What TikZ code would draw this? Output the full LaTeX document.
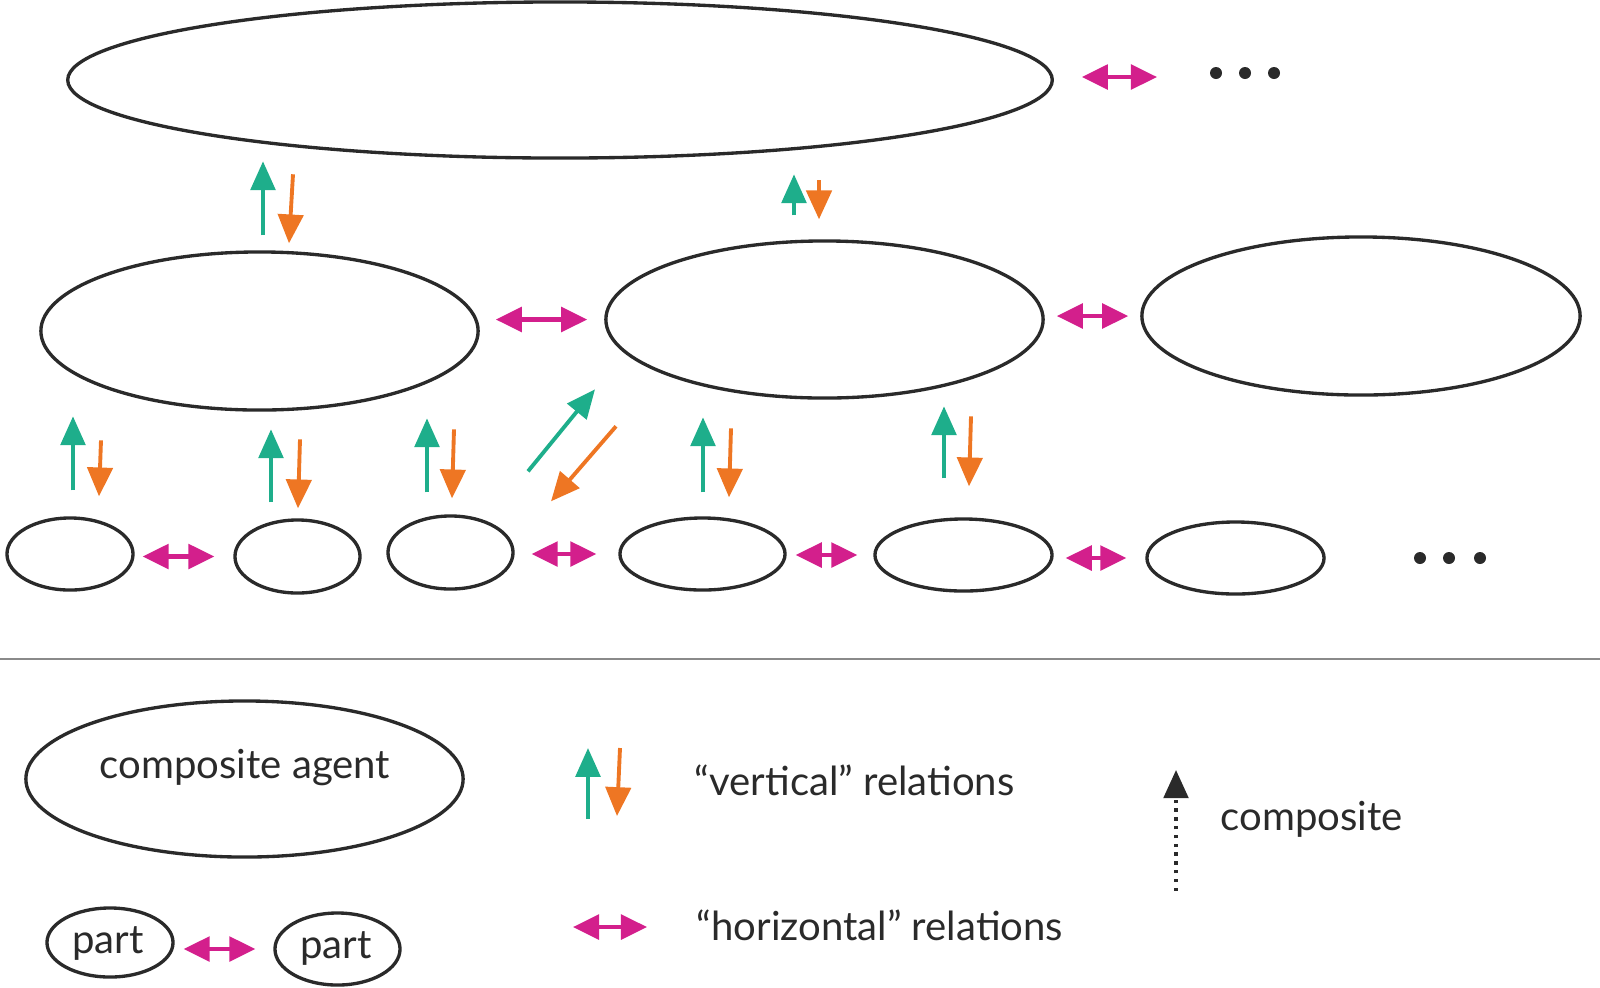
\documentclass[tikz,border=0pt]{standalone}
\usepackage{fontspec}
\setmainfont{Lato}
\usetikzlibrary{arrows.meta,shapes.geometric}
\definecolor{relgreen}{HTML}{1EAE8B}
\definecolor{relorange}{HTML}{EE7623}
\definecolor{relpink}{HTML}{D31F8C}
\definecolor{ink}{HTML}{2A2A2A}
\tikzset{
  blob/.style={ellipse, draw=ink, line width=0.95pt, inner sep=0pt},
  lbl/.style={text=ink, inner sep=0pt, font=\fontsize{11.4pt}{14pt}\selectfont},
  uprel/.style={draw=relgreen, line width=1.1pt, -{Triangle[length=8.2pt,width=7pt]}},
  downrel/.style={draw=relorange, line width=1.1pt, -{Triangle[length=8.2pt,width=7.2pt]}},
  hrel/.style={draw=relpink, line width=1.15pt,
    {Triangle[length=7.4pt,width=7pt]}-{Triangle[length=7.4pt,width=7pt]}},
  comprel/.style={draw=ink, line width=1pt, dash pattern=on 1pt off 1.5pt,
    -{Triangle[length=8pt,width=7pt]}},
}
\begin{document}
\begin{tikzpicture}[x=0.01cm, y=-0.01cm]
\useasboundingbox (0,0) rectangle (1600,987);
% composite level
\node[blob, minimum width=9.84cm, minimum height=1.56cm] (top) at (560,80) {};
\foreach \x in {1216,1245,1274}
  \fill[ink] (\x,73) circle (0.06cm);
% middle level
\node[blob, minimum width=4.37cm, minimum height=1.58cm] (m1) at (259.5,331) {};
\node[blob, minimum width=4.37cm, minimum height=1.57cm] (m2) at (824.5,319.5) {};
\node[blob, minimum width=4.38cm, minimum height=1.58cm] (m3) at (1361,316) {};
% parts
\node[blob, minimum width=1.26cm, minimum height=0.72cm] (s1) at (70,554) {};
\node[blob, minimum width=1.25cm, minimum height=0.73cm] (s2) at (297.5,556.5) {};
\node[blob, minimum width=1.25cm, minimum height=0.73cm] (s3) at (450.5,552.5) {};
\node[blob, minimum width=1.65cm, minimum height=0.72cm] (s4) at (702.5,554) {};
\node[blob, minimum width=1.77cm, minimum height=0.72cm] (s5) at (963.5,555) {};
\node[blob, minimum width=1.77cm, minimum height=0.72cm] (s6) at (1235.5,558) {};
\foreach \x in {1420,1449,1480}
  \fill[ink] (\x,558) circle (0.06cm);

% horizontal relations
\draw[hrel] (top.east) ++(28,-3) -- ++(75,0);
\draw[hrel, shorten <=0.16cm, shorten >=0.17cm] (m1.east |- m2.west) -- (m2.west);
\draw[hrel, shorten <=0.12cm, shorten >=0.12cm] (m2.east |- m3.west) -- (m3.west);
\draw[hrel, shorten <=0.08cm, shorten >=0.19cm] (s1.east |- s2.west) -- (s2.west);
\draw[hrel, shorten <=0.17cm, shorten >=0.22cm] (s3.east |- s4.west) -- (s4.west);
\draw[hrel, shorten <=0.09cm, shorten >=0.16cm] (s4.east |- s5.west) -- (s5.west);
\draw[hrel, shorten <=0.12cm, shorten >=0.19cm] (s5.east |- s6.west) -- (s6.west);

% vertical relations
\draw[uprel] (m1.north) ++(3.5,-15) -- ++(0,-74);
\draw[downrel] (m1.north) ++(33.5,-76) -- ++(-4,69);
\draw[uprel] (m2.north) ++(-30.5,-24) -- ++(0,-41);
\draw[downrel] (m2.north) ++(-5.5,-59) -- ++(0,39);
\draw[uprel] (s1.north) ++(3,-26) -- ++(0,-74);
\draw[downrel] (s1.north) ++(31,-76) -- ++(-2,56);
\draw[uprel] (s2.north) ++(-26.5,-16) -- ++(0,-73);
\draw[downrel] (s2.north) ++(2.5,-79) -- ++(-2,69);
\draw[uprel] (s3.north) ++(-23.5,-22) -- ++(0,-74);
\draw[downrel] (s3.north) ++(3.5,-85) -- ++(-2,69);
\draw[uprel] (s3.north) ++(77.5,-43) -- ++(67,-82);
\draw[downrel] (s3.north) ++(165.5,-88) -- ++(-65,75);
\draw[uprel] (s4.north) ++(0.5,-24) -- ++(0,-75);
\draw[downrel] (s4.north) ++(28.5,-88) -- ++(-2,69);
\draw[uprel] (s5.north) ++(-19.5,-39) -- ++(0,-72);
\draw[downrel] (s5.north) ++(7.5,-101) -- ++(-2,70);

% legend
\draw[draw=ink!55, line width=0.6pt] (0,659) -- (1600,659);
\node[blob, minimum width=4.37cm, minimum height=1.56cm] (agent) at (244.5,779) {};
\node[lbl, anchor=base] (agentlbl) at (245,778) {composite agent};
\node[blob, lbl, minimum width=1.26cm, minimum height=0.69cm] (p1) at (110,942.5) {};
\node[lbl, anchor=base] (p1lbl) at (108,953) {part};
\node[blob, lbl, minimum width=1.25cm, minimum height=0.72cm] (p2) at (337.5,949) {};
\node[lbl, anchor=base] (p2lbl) at (336,958) {part};
\draw[hrel, shorten <=0.09cm, shorten >=0.18cm] (p1.east |- p2.west) -- (p2.west);

\node[lbl, anchor=base west] (vtxt) at (694,795) {``vertical'' relations};
\node[lbl, anchor=base west] (htxt) at (696,940) {``horizontal'' relations};
\node[lbl, anchor=base west] (ctxt) at (1220,830) {composite};
\draw[uprel] (vtxt.base west) ++(-106,24) -- ++(0,-71);
\draw[downrel] (vtxt.base west) ++(-74,-47) -- ++(-3,68);
\draw[hrel] (htxt.base west) ++(-123,-13) -- ++(74,0);
\draw[comprel] (ctxt.base west) ++(-44,61) -- ++(0,-121);
\end{tikzpicture}
\end{document}
